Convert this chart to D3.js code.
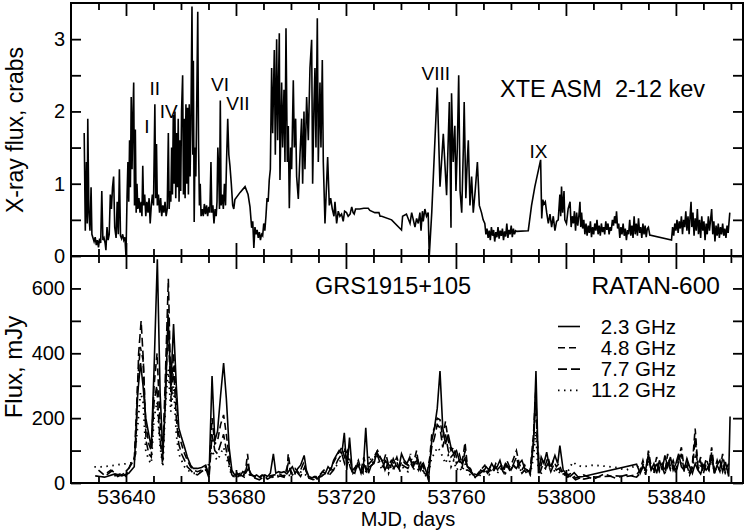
<!DOCTYPE html>
<html>
<head>
<meta charset="utf-8">
<script src="https://cdnjs.cloudflare.com/ajax/libs/d3/7.8.5/d3.min.js"></script>
<style>
  body{margin:0;background:#fff;}
  text{font-family:"Liberation Sans",Arial,Helvetica,sans-serif;fill:#000;}
</style>
</head>
<body>
<script>
// XTE ASM light curve, [MJD, crabs]
var xray = [
  [53624.8,1.70],[53625.2,0.35],[53625.6,1.30],[53625.9,0.45],[53626.1,1.90],[53626.5,0.60],[53626.9,0.35],[53627.3,0.95],
  [53627.6,0.30],[53628.0,0.25],[53628.4,0.20],[53628.8,0.26],[53629.2,0.15],[53629.6,0.22],[53630.0,0.12],[53630.4,0.24],
  [53630.8,0.18],[53631.2,0.90],[53631.6,0.22],[53632.0,0.25],[53632.4,0.18],[53632.7,0.08],[53633.1,0.40],[53633.5,0.22],
  [53633.9,0.30],[53634.3,0.85],[53634.7,0.65],[53635.1,0.95],[53635.5,1.10],[53635.9,0.40],[53636.4,0.25],[53636.8,0.75],
  [53637.2,0.30],[53637.6,1.20],[53638.0,0.28],[53638.4,0.24],[53638.8,0.30],[53639.2,0.22],[53639.6,0.26],[53640.0,0.00],
  [53640.4,0.85],[53640.7,1.30],[53641.0,0.75],[53641.3,1.60],[53641.6,0.95],[53641.9,2.20],[53642.2,1.20],[53642.5,1.90],
  [53642.8,2.40],[53643.1,0.70],[53643.4,1.75],[53643.7,0.60],[53644.0,1.00],[53644.3,0.65],[53644.7,0.80],[53645.1,0.60],
  [53645.5,0.75],[53645.8,0.55],[53646.1,1.25],[53646.4,0.70],[53646.8,0.85],[53647.2,0.55],[53647.6,0.75],[53648.0,0.60],
  [53648.4,0.80],[53648.8,0.45],[53649.2,0.70],[53649.6,0.85],[53650.0,0.70],[53650.5,2.10],[53650.8,0.80],[53651.1,1.55],
  [53651.4,0.70],[53651.8,0.85],[53652.2,0.60],[53652.6,0.80],[53653.0,0.55],[53653.4,0.70],[53653.8,0.60],[53654.2,0.75],
  [53654.6,0.55],[53655.0,0.65],[53655.4,1.70],[53655.7,0.65],[53656.0,0.90],[53656.3,0.75],[53656.6,1.50],[53656.9,0.85],
  [53657.2,1.95],[53657.5,1.00],[53657.8,2.00],[53658.1,0.80],[53658.4,1.70],[53658.7,0.95],[53659.0,1.90],[53659.3,0.75],
  [53659.6,1.60],[53659.9,0.90],[53660.2,2.00],[53660.6,2.50],[53660.9,0.85],[53661.2,1.90],[53661.5,0.80],[53661.8,2.10],
  [53662.1,1.00],[53662.4,2.05],[53662.7,0.85],[53663.0,2.10],[53663.3,1.10],[53663.6,1.80],[53664.0,3.45],[53664.3,1.40],
  [53664.5,2.70],[53664.8,0.47],[53665.1,1.50],[53665.4,1.10],[53665.7,2.00],[53666.1,3.38],[53666.4,1.50],[53666.7,0.70],
  [53667.0,1.00],[53667.3,0.55],[53667.7,0.65],[53668.1,0.55],[53668.5,0.72],[53668.9,0.58],[53669.3,0.70],[53669.7,0.55],
  [53670.1,0.68],[53670.5,0.60],[53670.9,1.30],[53671.2,0.60],[53671.6,0.70],[53672.0,0.45],[53672.4,0.65],[53672.8,0.55],
  [53673.1,0.75],[53673.4,1.50],[53673.7,1.20],[53674.0,0.65],[53674.3,2.15],[53674.6,0.70],[53675.0,0.85],[53675.4,0.65],
  [53675.8,1.00],[53676.2,0.70],[53676.6,1.35],[53677.0,1.90],[53677.4,1.40],[53677.8,1.25],[53678.3,1.00],[53678.8,0.70],
  [53679.2,0.65],[53679.6,0.78],[53681.5,0.88],[53683.3,0.96],[53684.4,0.85],[53685.1,0.68],[53685.7,0.39],[53686.1,0.48],
  [53686.5,0.11],[53686.9,0.40],[53687.3,0.30],[53687.7,0.36],[53688.1,0.25],[53688.5,0.33],[53688.9,0.22],[53689.3,0.30],
  [53689.7,0.28],[53690.1,0.45],[53690.5,0.35],[53690.9,0.55],[53691.3,0.80],[53691.7,0.75],[53692.1,1.05],[53692.5,1.20],
  [53692.97,2.60],[53693.34,1.70],[53693.94,2.85],[53694.31,1.40],[53694.79,3.00],[53695.16,1.60],[53695.40,2.20],[53695.76,3.08],
  [53696.00,1.05],[53696.61,2.40],[53696.97,1.50],[53697.46,2.30],[53697.82,1.30],[53698.19,3.15],[53698.67,1.30],[53699.03,1.80],
  [53699.40,0.66],[53699.88,1.50],[53700.25,1.20],[53700.85,2.43],[53701.22,1.50],[53701.70,1.90],[53702.06,1.10],[53702.67,0.79],
  [53703.28,1.40],[53703.88,1.90],[53704.25,1.00],[53704.73,2.00],[53705.09,1.20],[53705.70,2.20],[53706.31,1.60],[53706.91,2.60],
  [53707.52,2.99],[53707.88,1.00],[53708.37,2.10],[53708.73,2.60],[53709.09,1.50],[53709.58,3.29],[53709.94,1.30],[53710.55,2.40],
  [53710.91,1.50],[53711.40,2.71],[53711.76,1.30],[53712.37,0.45],[53713.34,1.37],[53713.94,0.70],[53714.43,0.80],[53715.03,0.65],
  [53715.64,0.55],[53716.00,0.75],[53716.61,0.45],[53717.2,0.62],[53717.8,0.55],[53718.4,0.58],[53719.0,0.48],[53719.5,0.62],
  [53720.2,0.60],[53720.8,0.55],[53721.5,0.58],[53722.1,0.68],[53722.6,0.60],[53723.0,0.58],[53723.5,0.65],[53725.0,0.65],
  [53726.5,0.66],[53728.1,0.66],[53728.7,0.63],[53730.5,0.60],[53732.0,0.60],[53732.4,0.55],[53733.0,0.55],[53736.6,0.50],
  [53740.2,0.36],[53740.6,0.55],[53742.0,0.58],[53743.3,0.45],[53743.9,0.60],[53744.5,0.50],[53745.1,0.40],[53745.7,0.52],
  [53746.3,0.45],[53746.9,0.60],[53747.3,0.35],[53747.8,0.62],[53748.1,0.48],[53748.7,0.65],[53749.3,0.55],[53749.9,0.60],
  [53750.3,0.00],[53751.2,0.60],[53753.2,2.33],[53754.2,0.96],[53755.4,1.69],[53756.6,0.84],[53757.6,2.13],[53758.2,0.39],
  [53758.4,2.25],[53759.0,1.30],[53759.6,1.80],[53760.0,0.90],[53760.5,1.50],[53761.0,2.50],[53761.5,0.90],[53762.1,0.60],
  [53762.7,1.50],[53763.0,2.13],[53763.6,0.80],[53764.1,1.30],[53764.5,1.60],[53765.1,0.70],[53765.7,1.10],[53766.3,0.60],
  [53767.0,0.90],[53767.8,1.30],[53768.5,0.70],[53769.3,0.60],[53769.9,0.50],[53770.5,0.45],[53770.9,0.30],[53771.3,0.38],
  [53771.7,0.25],[53772.1,0.35],[53772.5,0.22],[53772.9,0.40],[53773.3,0.28],[53773.7,0.36],[53774.1,0.20],[53774.5,0.33],
  [53774.9,0.26],[53775.3,0.40],[53775.7,0.24],[53776.1,0.35],[53776.5,0.28],[53776.9,0.38],[53777.3,0.22],[53777.7,0.34],
  [53778.1,0.27],[53778.5,0.45],[53778.9,0.25],[53779.3,0.36],[53779.7,0.30],[53780.1,0.42],[53780.5,0.26],[53780.9,0.38],
  [53781.3,0.30],[53781.7,0.35],[53782.1,0.34],[53786.3,0.35],[53787.5,0.70],[53788.7,0.96],[53790.8,1.33],[53791.2,0.52],
  [53791.6,0.78],[53792.0,0.72],[53792.5,0.75],[53793.0,0.60],[53793.6,0.45],[53794.2,0.58],[53794.8,0.40],[53795.4,0.55],
  [53796.0,0.35],[53796.6,0.48],[53797.2,0.50],[53797.8,0.85],[53798.1,0.55],[53798.4,0.96],[53798.8,0.60],[53799.3,0.90],
  [53799.6,0.50],[53800.2,0.45],[53800.8,0.65],[53801.5,0.75],[53801.9,0.40],[53802.3,0.55],[53802.7,0.45],[53803.1,0.62],
  [53803.5,0.35],[53803.9,0.60],[53804.3,0.42],[53804.7,0.55],[53805.1,0.75],[53805.4,0.40],[53805.7,0.60],[53806.1,0.38],
  [53806.5,0.50],[53806.9,0.30],[53807.3,0.45],[53807.7,0.28],[53808.1,0.42],[53808.5,0.32],[53808.9,0.48],[53809.3,0.26],
  [53809.7,0.40],[53810.1,0.30],[53810.5,0.45],[53810.9,0.35],[53811.3,0.50],[53811.7,0.30],[53812.1,0.42],[53812.5,0.28],
  [53812.9,0.45],[53813.3,0.33],[53813.7,0.40],[53814.1,0.30],[53814.5,0.48],[53814.9,0.36],[53815.3,0.45],[53815.7,0.30],
  [53816.1,0.40],[53816.5,0.35],[53816.9,0.50],[53817.3,0.42],[53817.7,0.55],[53818.1,0.45],[53818.4,0.62],[53818.8,0.38],
  [53819.2,0.45],[53819.6,0.25],[53820.0,0.40],[53820.4,0.30],[53820.8,0.45],[53821.2,0.28],[53821.6,0.38],[53822.0,0.22],
  [53822.4,0.36],[53822.8,0.30],[53823.2,0.50],[53823.6,0.28],[53824.0,0.42],[53824.4,0.25],[53824.8,0.55],[53825.2,0.30],
  [53825.6,0.45],[53826.0,0.28],[53826.4,0.52],[53826.8,0.32],[53827.2,0.40],[53827.6,0.25],[53828.0,0.45],[53828.4,0.30],
  [53828.8,0.42],[53829.2,0.26],[53829.6,0.38],[53830.0,0.40],[53830.5,0.29],[53838.4,0.22],[53838.8,0.40],[53839.2,0.28],
  [53839.6,0.45],[53840.0,0.35],[53840.4,0.50],[53840.8,0.32],[53841.2,0.48],[53841.6,0.38],[53842.0,0.55],[53842.4,0.30],
  [53842.8,0.50],[53843.2,0.40],[53843.6,0.62],[53844.0,0.35],[53844.4,0.55],[53844.8,0.30],[53845.2,0.58],[53845.5,0.75],
  [53845.8,0.40],[53846.2,0.60],[53846.6,0.28],[53847.0,0.52],[53847.4,0.35],[53847.8,0.65],[53848.2,0.30],[53848.6,0.50],
  [53849.0,0.25],[53849.4,0.55],[53849.8,0.35],[53850.2,0.48],[53850.6,0.22],[53851.0,0.45],[53851.4,0.30],[53851.8,0.55],
  [53852.2,0.35],[53852.6,0.50],[53853.0,0.65],[53853.4,0.30],[53853.8,0.48],[53854.2,0.20],[53854.6,0.42],[53855.0,0.28],
  [53855.4,0.45],[53855.8,0.25],[53856.2,0.40],[53856.6,0.30],[53857.0,0.45],[53857.4,0.28],[53857.8,0.38],[53858.2,0.25],
  [53858.6,0.42],[53859.0,0.32],[53859.6,0.60]
];

// RATAN-600 fluxes, [MJD, mJy]
var r23 = [
  [53628.8,22],[53630.5,20],[53632.2,18],[53636.0,28],[53638.5,22],[53641.0,30],[53643.0,50],[53644.3,280],[53645.3,370],
  [53646.2,300],[53647.2,200],[53648.3,150],[53649.2,110],[53650.2,350],[53651.4,690],[53652.4,280],[53653.4,90],[53654.4,260],
  [53655.3,520],[53656.3,300],[53657.3,490],[53658.3,300],[53659.2,170],[53660.2,140],[53661.3,110],[53662.3,80],[53663.5,55],
  [53664.5,45],[53666.0,45],[53667.5,48],[53669.0,55],[53670.2,20],[53671.3,330],[53672.3,130],[53673.3,160],[53674.4,270],
  [53675.5,370],[53676.5,260],[53677.5,110],[53678.5,40],[53679.5,25],[53680.5,30],[53681.5,22],[53682.5,35],[53683.5,30],
  [53684.5,45],[53685.5,28],[53686.5,20],[53687.5,25],[53688.5,18],[53689.5,22],[53690.5,25],[53691.5,20],[53692.5,30],
  [53693.6,90],[53694.5,30],[53695.5,35],[53696.5,32],[53697.5,35],[53698.5,28],[53699.5,40],[53700.5,50],[53701.5,30],
  [53702.5,45],[53703.5,55],[53704.8,85],[53705.6,40],[53706.5,20],[53707.5,15],[53708.5,20],[53709.5,12],[53710.5,22],
  [53711.5,35],[53712.5,30],[53713.5,50],[53714.5,40],[53715.5,70],[53716.5,85],[53717.5,100],[53718.5,90],[53719.4,155],
  [53720.3,40],[53721.3,140],[53722.3,35],[53723.2,30],[53724.2,60],[53725.2,40],[53726.2,30],[53727.2,170],[53728.2,30],
  [53729.2,55],[53730.2,60],[53731.2,95],[53732.2,80],[53733.2,70],[53734.2,40],[53735.2,60],[53736.2,50],[53737.2,75],
  [53738.2,55],[53739.2,45],[53740.2,90],[53741.2,70],[53742.2,60],[53743.2,80],[53744.2,50],[53745.2,65],[53746.2,70],
  [53747.2,40],[53748.2,60],[53749.2,35],[53750.0,8],[53751.2,130],[53752.2,170],[53753.2,230],[53754.2,345],[53755.2,170],
  [53756.2,120],[53757.2,150],[53758.2,110],[53759.2,90],[53760.2,100],[53761.2,70],[53762.2,60],[53763.2,75],[53764.2,50],
  [53765.2,40],[53766.2,28],[53767.0,18],[53768.0,25],[53769.0,40],[53770.0,35],[53771.0,50],[53772.0,40],[53773.0,60],
  [53774.0,45],[53775.0,50],[53776.0,70],[53777.0,40],[53778.0,60],[53779.0,50],[53780.0,40],[53781.0,55],[53782.0,45],
  [53783.0,60],[53784.0,70],[53785.0,45],[53786.0,40],[53787.0,30],[53788.2,120],[53789.1,345],[53790.0,30],[53791.0,80],
  [53792.0,60],[53793.0,95],[53794.0,50],[53795.0,60],[53796.0,85],[53797.0,60],[53797.8,115],[53799.0,40],[53800.0,30],
  [53801.5,20],[53803.0,32],[53804.5,18],[53806.3,20],[53825.7,58],[53827.0,30],[53828.0,50],[53829.0,40],[53830.0,90],
  [53831.0,40],[53832.0,60],[53833.0,30],[53834.0,70],[53835.0,40],[53836.0,85],[53837.0,50],[53838.0,80],[53839.0,40],
  [53840.0,60],[53841.0,90],[53842.0,50],[53843.0,40],[53844.0,75],[53845.0,50],[53846.0,30],[53847.0,60],[53848.0,40],
  [53849.0,28],[53850.0,55],[53851.0,40],[53852.0,50],[53853.0,80],[53854.0,30],[53855.0,55],[53856.0,70],[53857.0,35],
  [53858.0,65],[53859.2,20],[53859.7,205]
];
var r48 = [
  [53630.0,40],[53632.0,25],[53634.5,40],[53636.0,22],[53638.5,30],[53640.0,20],[53641.5,55],[53643.0,70],[53644.3,320],
  [53645.2,420],[53646.2,380],[53647.2,180],[53648.3,120],[53649.2,100],[53650.2,300],[53651.3,400],[53652.3,200],[53653.4,70],
  [53654.4,300],[53655.3,480],[53656.3,280],[53657.3,400],[53658.3,260],[53659.2,150],[53660.2,120],[53661.3,90],[53662.3,70],
  [53663.5,50],[53664.5,40],[53666.0,35],[53667.5,40],[53669.0,50],[53670.2,25],[53671.3,200],[53672.3,120],[53673.3,130],
  [53674.4,180],[53675.5,210],[53676.5,150],[53677.5,80],[53678.5,30],[53679.5,20],[53680.5,25],[53681.5,30],[53682.5,20],
  [53683.5,40],[53684.2,90],[53685.0,25],[53686.5,22],[53688.0,15],[53689.5,25],[53691.0,18],[53692.5,22],[53694.0,25],
  [53695.5,30],[53697.0,22],[53698.5,25],[53699.0,90],[53700.0,30],[53701.5,45],[53703.0,30],[53704.5,60],[53706.0,25],
  [53707.5,15],[53709.0,20],[53710.5,25],[53712.0,40],[53713.5,30],[53715.0,55],[53716.5,80],[53717.5,95],[53718.5,110],
  [53719.5,80],[53720.5,100],[53721.5,70],[53722.5,40],[53723.5,50],[53724.5,70],[53725.5,40],[53726.5,80],[53727.5,40],
  [53728.5,60],[53729.5,70],[53730.5,85],[53731.5,100],[53732.5,80],[53733.5,60],[53734.5,90],[53735.5,55],[53736.5,70],
  [53737.5,60],[53738.5,80],[53739.5,50],[53740.5,70],[53741.5,60],[53742.5,55],[53743.5,70],[53744.5,60],[53745.7,100],
  [53746.5,50],[53747.5,70],[53748.5,40],[53749.5,30],[53750.5,80],[53751.2,150],[53752.2,170],[53753.2,200],[53754.2,195],
  [53755.2,140],[53756.2,190],[53757.2,130],[53758.2,100],[53759.2,110],[53760.2,80],[53761.2,90],[53762.2,60],[53763.3,125],
  [53764.2,50],[53765.2,45],[53766.2,30],[53767.5,25],[53768.5,35],[53769.5,45],[53770.5,55],[53771.5,35],[53772.5,50],
  [53773.5,40],[53774.5,60],[53775.5,45],[53776.5,55],[53777.5,40],[53778.5,70],[53779.5,50],[53780.5,65],[53782.0,100],
  [53783.0,60],[53784.0,40],[53785.0,55],[53786.0,35],[53787.0,40],[53788.2,150],[53789.0,280],[53789.7,120],[53790.5,40],
  [53791.5,70],[53792.5,55],[53793.5,80],[53794.5,45],[53795.5,70],[53796.5,50],[53797.5,60],[53798.5,35],[53799.5,40],
  [53800.5,25],[53802.0,30],[53803.5,15],[53805.0,20],[53806.5,12],[53810.0,18],[53814.0,20],[53818.0,22],[53822.0,20],
  [53825.7,25],[53827.0,40],[53828.0,70],[53829.0,35],[53830.0,100],[53831.0,50],[53832.0,40],[53833.0,80],[53834.0,45],
  [53835.0,60],[53836.0,35],[53837.0,90],[53838.0,50],[53839.0,70],[53840.0,40],[53841.0,80],[53842.0,110],[53843.0,45],
  [53844.0,70],[53845.0,35],[53846.0,60],[53847.0,168],[53848.0,50],[53849.0,80],[53850.0,40],[53851.0,75],[53852.0,50],
  [53853.0,110],[53854.0,40],[53855.0,70],[53856.0,45],[53857.0,90],[53858.0,40],[53859.2,60]
];
var r77 = [
  [53633.0,25],[53635.0,38],[53637.0,20],[53639.0,28],[53641.0,45],[53642.5,65],[53643.5,90],[53644.6,400],[53645.5,500],
  [53646.3,380],[53647.3,130],[53648.3,90],[53649.2,80],[53650.2,250],[53651.2,300],[53652.2,150],[53653.3,60],[53654.4,350],
  [53655.4,630],[53656.4,250],[53657.3,360],[53658.3,200],[53659.2,120],[53660.2,90],[53661.3,70],[53662.3,50],[53663.5,40],
  [53664.5,30],[53666.0,25],[53667.5,35],[53669.0,45],[53670.2,15],[53671.3,150],[53672.3,100],[53673.3,90],[53674.4,120],
  [53675.5,150],[53676.5,100],[53677.5,60],[53678.5,25],[53680.0,15],[53681.5,25],[53683.0,18],[53684.2,60],[53685.5,20],
  [53687.0,15],[53688.5,10],[53690.0,18],[53691.5,12],[53693.0,20],[53694.5,15],[53696.0,22],[53697.5,18],[53699.0,60],
  [53700.5,25],[53702.0,35],[53703.5,20],[53705.0,50],[53706.5,15],[53708.0,10],[53709.5,15],[53711.0,20],[53712.5,30],
  [53714.0,25],[53715.5,40],[53717.0,70],[53718.5,90],[53719.5,60],[53720.5,85],[53721.5,50],[53722.5,30],[53723.5,45],
  [53724.5,55],[53725.5,30],[53726.5,60],[53727.5,35],[53728.5,50],[53729.5,55],[53730.5,70],[53731.5,85],[53732.5,60],
  [53733.5,50],[53734.5,75],[53735.5,45],[53736.5,60],[53737.5,45],[53738.5,65],[53739.5,40],[53740.5,55],[53741.5,50],
  [53742.5,45],[53743.5,60],[53744.5,50],[53745.7,80],[53746.5,40],[53747.5,55],[53748.5,30],[53749.5,25],[53750.5,70],
  [53751.2,110],[53752.2,140],[53753.2,180],[53754.2,170],[53755.2,110],[53756.2,150],[53757.2,100],[53758.2,80],[53759.2,90],
  [53760.2,60],[53761.2,70],[53762.2,45],[53763.3,100],[53764.2,40],[53765.2,35],[53766.2,25],[53767.5,20],[53768.5,28],
  [53769.5,35],[53770.5,45],[53771.5,30],[53772.5,40],[53773.5,32],[53774.5,50],[53775.5,35],[53776.5,45],[53777.5,30],
  [53778.5,55],[53779.5,40],[53780.5,50],[53782.0,80],[53783.0,45],[53784.0,30],[53785.0,40],[53786.0,25],[53787.0,30],
  [53788.2,130],[53789.0,250],[53789.7,100],[53790.5,30],[53791.5,55],[53792.5,45],[53793.5,60],[53794.5,35],[53795.5,55],
  [53796.5,40],[53797.5,45],[53798.5,25],[53799.5,30],[53800.5,18],[53802.0,22],[53803.5,10],[53805.0,15],[53806.5,25],
  [53810.0,12],[53814.0,28],[53818.0,15],[53822.0,25],[53825.7,18],[53827.0,30],[53828.0,55],[53829.0,25],[53830.0,80],
  [53831.0,40],[53832.0,30],[53833.0,65],[53834.0,35],[53835.0,50],[53836.0,25],[53837.0,70],[53838.0,40],[53839.0,55],
  [53840.0,30],[53841.0,65],[53842.0,90],[53843.0,35],[53844.0,55],[53845.0,25],[53846.0,45],[53847.0,140],[53848.0,40],
  [53849.0,65],[53850.0,30],[53851.0,60],[53852.0,40],[53853.0,95],[53854.0,30],[53855.0,55],[53856.0,35],[53857.0,75],
  [53858.0,30],[53859.2,45]
];
var r112 = [
  [53628.5,50],[53631.0,50],[53633.5,52],[53636.0,55],[53638.5,58],[53641.0,60],[53643.0,65],[53644.3,180],[53645.3,280],
  [53646.2,250],[53647.2,100],[53648.3,70],[53649.2,60],[53650.2,200],[53651.3,250],[53652.3,120],[53653.4,50],[53654.4,250],
  [53655.4,350],[53656.3,220],[53657.3,300],[53658.3,150],[53659.2,90],[53660.2,70],[53661.3,50],[53662.3,40],[53663.5,35],
  [53664.5,30],[53666.0,30],[53667.5,35],[53669.0,40],[53670.2,60],[53671.3,100],[53672.3,80],[53673.3,70],[53674.4,90],
  [53675.5,110],[53676.5,80],[53677.5,50],[53678.5,20],[53680.0,25],[53682.0,20],[53684.0,30],[53686.0,20],[53688.0,15],
  [53690.0,20],[53692.0,15],[53694.0,20],[53696.0,25],[53698.0,20],[53700.0,25],[53702.0,30],[53704.0,35],[53706.0,20],
  [53708.0,15],[53710.0,20],[53712.0,25],[53714.0,30],[53716.0,50],[53717.5,60],[53718.5,80],[53719.5,100],[53720.5,70],
  [53721.5,50],[53722.5,30],[53723.5,40],[53724.5,60],[53725.5,35],[53726.5,50],[53727.5,30],[53728.5,85],[53729.5,60],
  [53730.5,80],[53731.5,70],[53732.5,50],[53733.5,40],[53734.5,65],[53735.5,30],[53736.5,55],[53737.5,40],[53738.5,60],
  [53739.5,35],[53740.5,50],[53741.5,40],[53742.5,35],[53743.5,90],[53744.5,40],[53745.5,60],[53746.5,35],[53747.5,50],
  [53748.5,25],[53749.5,20],[53750.5,50],[53751.2,80],[53752.2,90],[53753.2,110],[53754.2,100],[53755.2,80],[53756.2,60],
  [53757.2,85],[53758.2,50],[53759.2,70],[53760.2,40],[53761.2,50],[53762.2,35],[53763.3,60],[53764.2,30],[53765.2,25],
  [53766.2,20],[53767.5,15],[53769.0,25],[53770.5,35],[53772.0,25],[53773.5,40],[53775.0,30],[53776.5,45],[53778.0,30],
  [53779.5,55],[53781.0,40],[53782.5,60],[53784.0,30],[53785.5,45],[53787.0,25],[53788.2,80],[53789.0,160],[53789.7,60],
  [53790.5,25],[53792.0,40],[53793.5,50],[53795.0,35],[53796.5,40],[53798.0,30],[53799.5,25],[53801.0,40],[53802.5,65],
  [53804.0,55],[53806.0,50],[53810.0,55],[53814.0,52],[53818.0,48],[53822.0,40],[53825.7,55],[53827.0,40],[53828.0,60],
  [53829.0,30],[53830.0,70],[53831.0,45],[53832.0,35],[53833.0,55],[53834.0,40],[53835.0,60],[53836.0,30],[53837.0,65],
  [53838.0,45],[53839.0,50],[53840.0,35],[53841.0,70],[53842.0,60],[53843.0,40],[53844.0,50],[53845.0,30],[53846.0,55],
  [53847.0,80],[53848.0,40],[53849.0,55],[53850.0,35],[53851.0,50],[53852.0,40],[53853.0,70],[53854.0,35],[53855.0,50],
  [53856.0,40],[53857.0,60],[53858.0,30],[53859.2,40]
];

// outburst labels in the X-ray panel
var flareNames = ["I", "II", "IV", "VI", "VII", "VIII", "IX"];
var flareMjd   = [53647.6, 53650.5, 53655.5, 53674.2, 53680.7, 53752.7, 53790.0];
var flareLevel = [1.70, 2.23, 1.91, 2.28, 2.02, 2.43, 1.36];

// ticks
var xMajor = [53640, 53680, 53720, 53760, 53800, 53840];
var xMinor = [53630, 53650, 53660, 53670, 53690, 53700, 53710, 53730, 53740, 53750, 53770, 53780, 53790, 53810, 53820, 53830, 53850, 53860];
var yTopTicks = [0, 0.5, 1, 1.5, 2, 2.5, 3];
var yBotTicks = [0, 100, 200, 300, 400, 500, 600];

var radioNames = ["2.3 GHz", "4.8 GHz", "7.7 GHz", "11.2 GHz"];
var radioDash  = ["none", "7,4", "9,4", "1.5,4.5"];

(function(){
  var width = 747, height = 532;
  var left = 71, right = 743, top1 = 3, mid = 256, bottom = 483;

  var svg = d3.select("body").append("svg")
    .attr("width", width)
    .attr("height", height);

  var x = d3.scaleLinear().domain([53620, 53864.4]).range([left, right]);
  var yTop = d3.scaleLinear().domain([0, 3.5]).range([mid, top1]);
  var yBot = d3.scaleLinear().domain([0, 700]).range([bottom, mid]);

  // clip regions for each panel
  var defs = svg.append("defs");
  defs.append("clipPath").attr("id", "clipTop").append("rect")
    .attr("x", left).attr("y", top1).attr("width", right - left).attr("height", mid - top1);
  defs.append("clipPath").attr("id", "clipBot").append("rect")
    .attr("x", left).attr("y", mid).attr("width", right - left).attr("height", bottom - mid);

  // ---- X-ray panel
  var xrayLine = d3.line().x(function(d){ return x(d[0]); }).y(function(d){ return yTop(d[1]); });
  svg.append("path")
    .datum(xray)
    .attr("clip-path", "url(#clipTop)")
    .attr("d", xrayLine)
    .attr("fill", "none")
    .attr("stroke", "#000")
    .attr("stroke-width", 1.6)
    .attr("stroke-linejoin", "miter");

  // ---- radio panel
  var radioLine = d3.line().x(function(d){ return x(d[0]); }).y(function(d){ return yBot(d[1]); });
  var radioData = [r23, r48, r77, r112];
  radioData.forEach(function(series, i){
    svg.append("path")
      .datum(series)
      .attr("clip-path", "url(#clipBot)")
      .attr("d", radioLine)
      .attr("fill", "none")
      .attr("stroke", "#000")
      .attr("stroke-width", i == 3 ? 1.8 : 1.6)
      .attr("stroke-dasharray", radioDash[i] == "none" ? null : radioDash[i]);
  });

  // ---- axes, ticks pointing inward on all sides
  function noDomain(g){ g.select(".domain").remove(); g.selectAll(".tick line").attr("stroke-width", 1.8); }

  function xTicks(yPos, isTop, showLabels){
    var maj = (isTop ? d3.axisTop(x) : d3.axisBottom(x)).tickValues(xMajor).tickSize(-13).tickPadding(6)
      .tickFormat(showLabels ? d3.format("d") : "");
    var mnr = (isTop ? d3.axisTop(x) : d3.axisBottom(x)).tickValues(xMinor).tickSize(-7).tickFormat("");
    var g1 = svg.append("g").attr("transform", "translate(0," + yPos + ")").call(maj).call(noDomain);
    svg.append("g").attr("transform", "translate(0," + yPos + ")").call(mnr).call(noDomain);
    g1.selectAll("text").attr("font-size", 21).attr("font-family", null);
  }
  xTicks(top1, true, false);
  xTicks(mid, false, false);
  xTicks(mid, true, false);
  xTicks(bottom, false, true);

  function yTicks(scale, vals, labelEvery){
    var gl = svg.append("g").attr("transform", "translate(" + left + ",0)")
      .call(d3.axisLeft(scale).tickValues(vals).tickSize(-10).tickPadding(6)
        .tickFormat(function(d){ return d % labelEvery === 0 ? d : ""; }))
      .call(noDomain);
    gl.selectAll("text").attr("font-size", 20).attr("font-family", null);
    svg.append("g").attr("transform", "translate(" + right + ",0)")
      .call(d3.axisRight(scale).tickValues(vals).tickSize(-10).tickFormat(""))
      .call(noDomain);
  }
  yTicks(yTop, yTopTicks, 1);
  yTicks(yBot, yBotTicks, 200);

  // frames
  svg.append("rect").attr("x", left).attr("y", top1).attr("width", right - left).attr("height", mid - top1)
    .attr("fill", "none").attr("stroke", "#000").attr("stroke-width", 2);
  svg.append("rect").attr("x", left).attr("y", mid).attr("width", right - left).attr("height", bottom - mid)
    .attr("fill", "none").attr("stroke", "#000").attr("stroke-width", 2);

  // ---- texts
  svg.append("text").attr("transform", "translate(23,130) rotate(-90)")
    .attr("text-anchor", "middle").attr("font-size", 23).text("X-ray flux, crabs");
  svg.append("text").attr("transform", "translate(22,367) rotate(-90)")
    .attr("text-anchor", "middle").attr("font-size", 24).text("Flux, mJy");
  svg.append("text").attr("x", 408).attr("y", 526)
    .attr("text-anchor", "middle").attr("font-size", 20).text("MJD, days");

  svg.append("text").attr("x", 500).attr("y", 97).attr("font-size", 23.5)
    .attr("xml:space", "preserve").text("XTE ASM  2-12 kev");
  svg.append("text").attr("x", 315).attr("y", 294).attr("font-size", 23.5).text("GRS1915+105");
  svg.append("text").attr("x", 720).attr("y", 294).attr("text-anchor", "end").attr("font-size", 24.5).text("RATAN-600");

  // flare labels
  svg.selectAll(".flare")
    .data(flareNames)
    .enter()
    .append("text")
    .attr("class", "flare")
    .attr("x", function(d, i){ return x(flareMjd[i]); })
    .attr("y", function(d, i){ return yTop(flareLevel[i]); })
    .attr("text-anchor", "middle")
    .attr("font-size", 19)
    .attr("fill", "#000")
    .text(function(d){ return d; });

  // legend
  var legend = svg.append("g").attr("class", "legend");
  radioNames.forEach(function(name, i){
    var yy = 326.5 + i * 21.3;
    legend.append("line")
      .attr("x1", 558).attr("x2", 580).attr("y1", yy).attr("y2", yy)
      .attr("stroke", "#000").attr("stroke-width", i == 3 ? 1.8 : 1.6)
      .attr("stroke-dasharray", radioDash[i] == "none" ? null : radioDash[i]);
    legend.append("text")
      .attr("x", 676).attr("y", yy + 7)
      .attr("text-anchor", "end")
      .attr("font-size", 20.5)
      .text(name);
  });
})();
</script>
</body>
</html>
